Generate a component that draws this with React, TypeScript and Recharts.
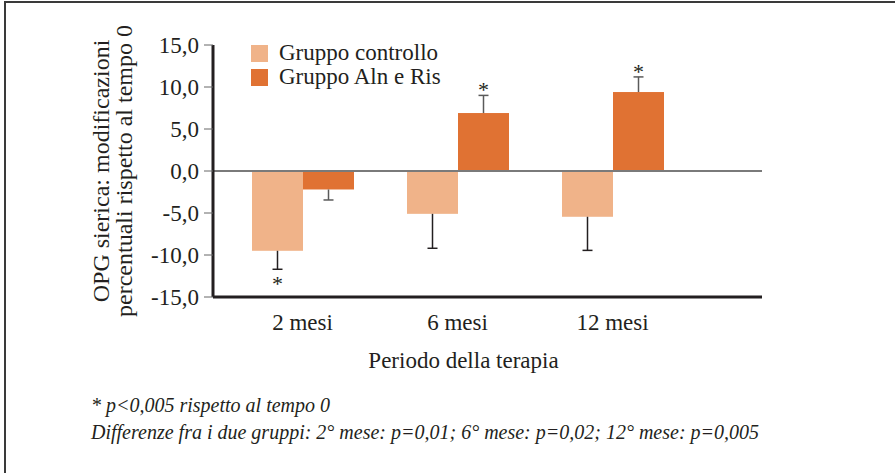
import { BarChart, Bar, XAxis, YAxis, Legend, ReferenceLine } from "recharts";

const categories = ["2 mesi", "6 mesi", "12 mesi"];
const seriesNames = ["Gruppo controllo", "Gruppo Aln e Ris"];
const controllo = [-9.5, -5.1, -5.45];
const controlloErr = [2.2, 4.1, 4.0];
const controlloSig = [true, false, false];
const alnRis = [-2.2, 6.9, 9.4];
const alnRisErr = [1.25, 2.1, 1.8];
const alnRisSig = [false, true, true];
const yTicks = [-15, -10, -5, 0, 5, 10, 15];

const data = categories.map((c, i) => ({
  periodo: c,
  controllo: controllo[i],
  controlloErr: controlloErr[i],
  controlloSig: controlloSig[i],
  alnRis: alnRis[i],
  alnRisErr: alnRisErr[i],
  alnRisSig: alnRisSig[i],
}));

const FONT = '"Liberation Serif", "Times New Roman", serif';
const INK = "#231f20";
const LIGHT = "#f0b389";
const DARK = "#e07233";

// bar + one-sided error whisker (away from zero) + significance star
function barWithError(key: string, errColor: string) {
  return (props: any) => {
    const { x, y, width, height, fill, payload } = props;
    const v = payload[key];
    const err = payload[key + "Err"];
    const sig = payload[key + "Sig"];
    const top = Math.min(y, y + height);
    const bottom = Math.max(y, y + height);
    const ppu = Math.abs(v) > 0 ? (bottom - top) / Math.abs(v) : 0;
    const cx = x + width / 2;
    const end = v >= 0 ? top : bottom;
    const tip = v >= 0 ? end - err * ppu : end + err * ppu;
    return (
      <g>
        <rect x={x} y={top} width={width} height={bottom - top} fill={fill} />
        <line x1={cx} x2={cx} y1={end} y2={tip} stroke={errColor} strokeWidth={1.5} />
        <line x1={cx - 5} x2={cx + 5} y1={tip} y2={tip} stroke={errColor} strokeWidth={1.5} />
        {sig && (
          <text
            x={cx}
            y={v >= 0 ? tip + 2 : tip + 22}
            textAnchor="middle"
            fontSize={22}
            fontFamily={FONT}
            fill={INK}
          >
            *
          </text>
        )}
      </g>
    );
  };
}

function LegendBox({ payload }: any) {
  const items = seriesNames
    .map((n) => (payload || []).find((p: any) => p.value === n))
    .filter(Boolean);
  return (
    <div style={{ fontFamily: FONT, fontSize: 23, color: INK }}>
      {items.map((p: any) => (
        <div key={p.value} style={{ display: "flex", alignItems: "center", height: 24 }}>
          <span style={{ width: 17, height: 17, background: p.color, marginRight: 11 }} />
          <span style={{ whiteSpace: "nowrap" }}>{p.value}</span>
        </div>
      ))}
    </div>
  );
}

function YTitle({ viewBox }: any) {
  const cy = viewBox.y + viewBox.height / 2;
  const bx = viewBox.x - 44;
  return (
    <g transform={`translate(${bx},${cy}) rotate(-90)`}>
      <text x={0} y={0} textAnchor="middle" fontSize={24} fontFamily={FONT} fill={INK}>
        OPG sierica: modificazioni
      </text>
      <text x={0} y={23} textAnchor="middle" fontSize={24} fontFamily={FONT} fill={INK}>
        percentuali rispetto al tempo 0
      </text>
    </g>
  );
}

function XTitle({ viewBox }: any) {
  return (
    <text
      x={viewBox.x + viewBox.width / 2 - 24}
      y={viewBox.y + 71}
      textAnchor="middle"
      fontSize={23}
      fontFamily={FONT}
      fill={INK}
    >
      Periodo della terapia
    </text>
  );
}

export default function App() {
  return (
    <div
      style={{
        position: "absolute",
        top: 0,
        left: 0,
        width: 895,
        height: 473,
        background: "#fff",
        overflow: "hidden",
      }}
    >
      <div
        style={{
          position: "absolute",
          top: 1,
          left: 4,
          right: 0,
          bottom: 0,
          borderTop: "2px solid #3a3a3a",
          borderLeft: "2px solid #3a3a3a",
          pointerEvents: "none",
        }}
      />
      <div style={{ position: "absolute", top: 0, left: 0 }}>
        <BarChart
          width={895}
          height={473}
          data={data}
          margin={{ top: 45, right: 133, bottom: 136, left: 153 }}
          barGap={0}
          barSize={51}
        >
          <XAxis
            dataKey="periodo"
            height={40}
            padding={{ left: 12, right: 72 }}
            tickLine={false}
            tickSize={0}
            tickMargin={17}
            axisLine={{ stroke: INK, strokeWidth: 3 }}
            tick={{ fill: INK, fontSize: 23, fontFamily: FONT }}
            label={{ content: XTitle }}
          />
          <YAxis
            type="number"
            domain={[-15, 15]}
            ticks={yTicks}
            interval={0}
            width={60}
            tickSize={9}
            tickMargin={5}
            tickLine={{ stroke: "#666" }}
            axisLine={{ stroke: INK, strokeWidth: 3 }}
            tick={{ fill: INK, fontSize: 23, fontFamily: FONT }}
            tickFormatter={(v: number) => v.toFixed(1).replace(".", ",")}
            label={{ content: YTitle }}
          />
          <Legend
            layout="vertical"
            align="center"
            verticalAlign="middle"
            wrapperStyle={{ top: 41, left: 251, width: 260 }}
            content={LegendBox}
          />
          <Bar
            dataKey="controllo"
            name={seriesNames[0]}
            fill={LIGHT}
            isAnimationActive={false}
            shape={barWithError("controllo", INK)}
          />
          <Bar
            dataKey="alnRis"
            name={seriesNames[1]}
            fill={DARK}
            isAnimationActive={false}
            shape={barWithError("alnRis", "#5a5a5a")}
          />
          <ReferenceLine y={0} stroke="#7a7a7a" strokeWidth={2} />
        </BarChart>
      </div>
      <div
        style={{
          position: "absolute",
          top: 392,
          left: 91,
          fontFamily: FONT,
          fontStyle: "italic",
          fontSize: 20,
          lineHeight: "27px",
          color: INK,
          whiteSpace: "nowrap",
        }}
      >
        <div>* p&lt;0,005 rispetto al tempo 0</div>
        <div>Differenze fra i due gruppi: 2° mese: p=0,01; 6° mese: p=0,02; 12° mese: p=0,005</div>
      </div>
    </div>
  );
}
